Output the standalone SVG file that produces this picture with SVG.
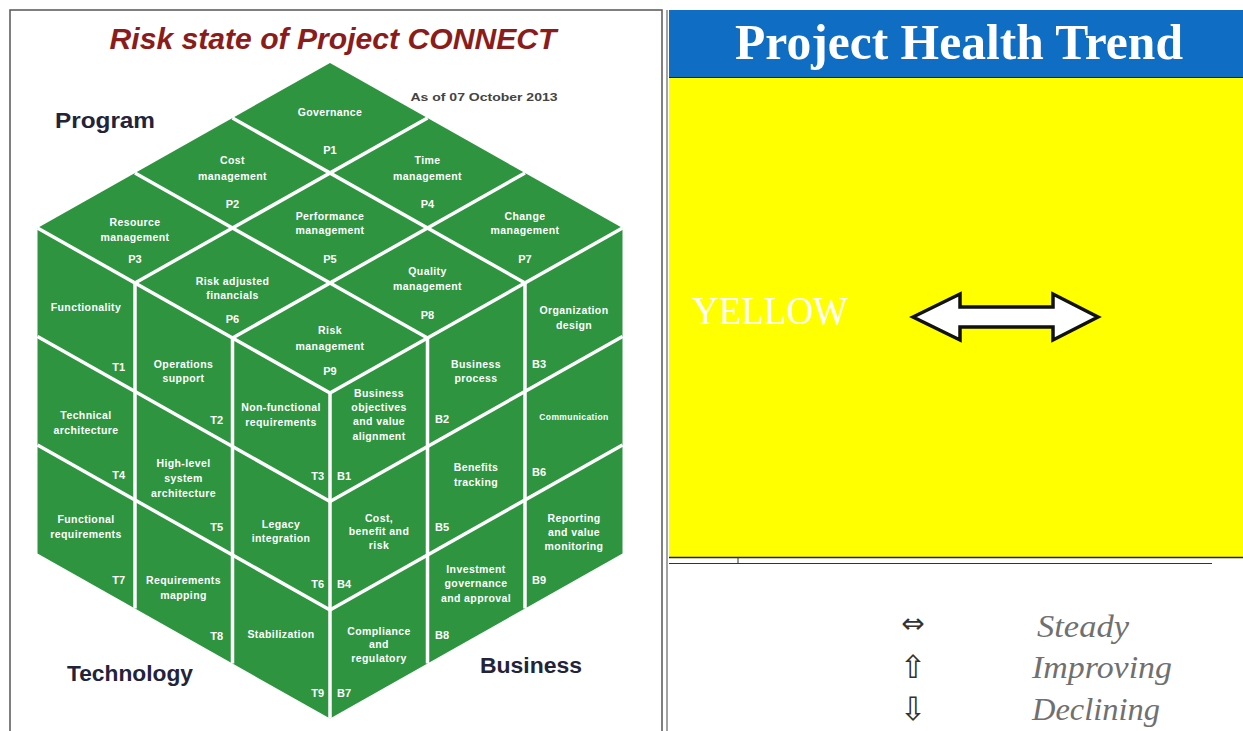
<svg xmlns="http://www.w3.org/2000/svg" width="1243" height="731" viewBox="0 0 1243 731">
<style>
.cell{fill:#2e9440}
.grid line{stroke:#ffffff;stroke-width:3.5;stroke-linecap:butt}
.lbl{font-family:"Liberation Sans",Arial,sans-serif;font-weight:bold;font-size:10.5px;fill:#ffffff;text-anchor:middle;letter-spacing:0.4px}
.code{font-family:"Liberation Sans",Arial,sans-serif;font-weight:bold;font-size:11px;fill:#ffffff}
.tc{text-anchor:end}
.bc{text-anchor:start}
.pc{text-anchor:middle}
.face{font-family:"Liberation Sans",Arial,sans-serif;font-weight:bold;font-size:22px;fill:#23233a}
.legend{font-family:"Liberation Serif","DejaVu Serif",serif;font-style:italic;font-size:31px;fill:#707070}
.sym{font-family:"DejaVu Sans",sans-serif;fill:#333333;text-anchor:middle}
</style>
<rect x="0" y="0" width="1243" height="731" fill="#ffffff"/>
<!-- left panel frame -->
<g id="left-frame" fill="none" stroke="#555555" stroke-width="1.5">
<polyline points="10,731 10,10 662,10 662,731"/>
</g>
<g id="risk-title">
<text x="333" y="49" font-family="'Liberation Sans',Arial,sans-serif" font-weight="bold" font-style="italic" font-size="29" fill="#8b1c1c" text-anchor="middle" textLength="447" lengthAdjust="spacingAndGlyphs">Risk state of Project CONNECT</text>
<text x="484" y="101" font-family="'Liberation Sans',Arial,sans-serif" font-weight="bold" font-size="11" fill="#444444" text-anchor="middle" textLength="147" lengthAdjust="spacingAndGlyphs">As of 07 October 2013</text>
</g>
<g id="face-labels">
<text class="face" x="55" y="128" textLength="100" lengthAdjust="spacingAndGlyphs">Program</text>
<text class="face" x="67" y="681" textLength="126" lengthAdjust="spacingAndGlyphs">Technology</text>
<text class="face" x="480" y="673" textLength="102" lengthAdjust="spacingAndGlyphs">Business</text>
</g>
<!-- Program (top) face -->
<g id="P1"><polygon class="cell" points="330,63 427.5,118 330,173 232.5,118"/><text class="lbl" x="330" y="116">Governance</text><text class="code pc" x="330" y="154">P1</text></g>
<g id="P2"><polygon class="cell" points="232.5,118 330,173 232.5,228 135,173"/><text class="lbl" x="232.5" y="164">Cost</text><text class="lbl" x="232.5" y="180">management</text><text class="code pc" x="232.5" y="208">P2</text></g>
<g id="P3"><polygon class="cell" points="135,173 232.5,228 135,283 37.5,228"/><text class="lbl" x="135" y="226">Resource</text><text class="lbl" x="135" y="241">management</text><text class="code pc" x="135" y="263">P3</text></g>
<g id="P4"><polygon class="cell" points="427.5,118 525,173 427.5,228 330,173"/><text class="lbl" x="427.5" y="164">Time</text><text class="lbl" x="427.5" y="180">management</text><text class="code pc" x="427.5" y="208">P4</text></g>
<g id="P5"><polygon class="cell" points="330,173 427.5,228 330,283 232.5,228"/><text class="lbl" x="330" y="220">Performance</text><text class="lbl" x="330" y="234">management</text><text class="code pc" x="330" y="263">P5</text></g>
<g id="P6"><polygon class="cell" points="232.5,228 330,283 232.5,338 135,283"/><text class="lbl" x="232.5" y="285">Risk adjusted</text><text class="lbl" x="232.5" y="299">financials</text><text class="code pc" x="232.5" y="323">P6</text></g>
<g id="P7"><polygon class="cell" points="525,173 622.5,228 525,283 427.5,228"/><text class="lbl" x="525" y="220">Change</text><text class="lbl" x="525" y="234">management</text><text class="code pc" x="525" y="263">P7</text></g>
<g id="P8"><polygon class="cell" points="427.5,228 525,283 427.5,338 330,283"/><text class="lbl" x="427.5" y="275">Quality</text><text class="lbl" x="427.5" y="290">management</text><text class="code pc" x="427.5" y="319">P8</text></g>
<g id="P9"><polygon class="cell" points="330,283 427.5,338 330,393 232.5,338"/><text class="lbl" x="330" y="334">Risk</text><text class="lbl" x="330" y="350">management</text><text class="code pc" x="330" y="375">P9</text></g>
<!-- Technology (left) face -->
<g id="T1"><polygon class="cell" points="37.5,228 135,283 135,391.5 37.5,336.5"/><text class="lbl" x="86" y="311">Functionality</text><text class="code tc" x="125" y="371">T1</text></g>
<g id="T2"><polygon class="cell" points="135,283 232.5,338 232.5,446.5 135,391.5"/><text class="lbl" x="183.5" y="368">Operations</text><text class="lbl" x="183.5" y="382">support</text><text class="code tc" x="223" y="424">T2</text></g>
<g id="T3"><polygon class="cell" points="232.5,338 330,393 330,501.5 232.5,446.5"/><text class="lbl" x="281" y="411">Non-functional</text><text class="lbl" x="281" y="426">requirements</text><text class="code tc" x="324" y="480">T3</text></g>
<g id="T4"><polygon class="cell" points="37.5,336.5 135,391.5 135,500 37.5,445"/><text class="lbl" x="86" y="419">Technical</text><text class="lbl" x="86" y="434">architecture</text><text class="code tc" x="125" y="479">T4</text></g>
<g id="T5"><polygon class="cell" points="135,391.5 232.5,446.5 232.5,555 135,500"/><text class="lbl" x="183.5" y="467">High-level</text><text class="lbl" x="183.5" y="482">system</text><text class="lbl" x="183.5" y="497">architecture</text><text class="code tc" x="223" y="531">T5</text></g>
<g id="T6"><polygon class="cell" points="232.5,446.5 330,501.5 330,610 232.5,555"/><text class="lbl" x="281" y="528">Legacy</text><text class="lbl" x="281" y="542">integration</text><text class="code tc" x="324" y="588">T6</text></g>
<g id="T7"><polygon class="cell" points="37.5,445 135,500 135,608.5 37.5,553.5"/><text class="lbl" x="86" y="523">Functional</text><text class="lbl" x="86" y="538">requirements</text><text class="code tc" x="125" y="584">T7</text></g>
<g id="T8"><polygon class="cell" points="135,500 232.5,555 232.5,663.5 135,608.5"/><text class="lbl" x="183.5" y="584">Requirements</text><text class="lbl" x="183.5" y="599">mapping</text><text class="code tc" x="223" y="640">T8</text></g>
<g id="T9"><polygon class="cell" points="232.5,555 330,610 330,718.5 232.5,663.5"/><text class="lbl" x="281" y="638">Stabilization</text><text class="code tc" x="324" y="697">T9</text></g>
<!-- Business (right) face -->
<g id="B1"><polygon class="cell" points="330,393 427.5,338 427.5,446.5 330,501.5"/><text class="lbl" x="379" y="397">Business</text><text class="lbl" x="379" y="411">objectives</text><text class="lbl" x="379" y="425">and value</text><text class="lbl" x="379" y="440">alignment</text><text class="code bc" x="337" y="480">B1</text></g>
<g id="B2"><polygon class="cell" points="427.5,338 525,283 525,391.5 427.5,446.5"/><text class="lbl" x="476" y="368">Business</text><text class="lbl" x="476" y="382">process</text><text class="code bc" x="435" y="423">B2</text></g>
<g id="B3"><polygon class="cell" points="525,283 622.5,228 622.5,336.5 525,391.5"/><text class="lbl" x="574" y="314">Organization</text><text class="lbl" x="574" y="329">design</text><text class="code bc" x="532" y="368">B3</text></g>
<g id="B4"><polygon class="cell" points="330,501.5 427.5,446.5 427.5,555 330,610"/><text class="lbl" x="379" y="522">Cost,</text><text class="lbl" x="379" y="535">benefit and</text><text class="lbl" x="379" y="549">risk</text><text class="code bc" x="337" y="588">B4</text></g>
<g id="B5"><polygon class="cell" points="427.5,446.5 525,391.5 525,500 427.5,555"/><text class="lbl" x="476" y="471">Benefits</text><text class="lbl" x="476" y="486">tracking</text><text class="code bc" x="435" y="531">B5</text></g>
<g id="B6"><polygon class="cell" points="525,391.5 622.5,336.5 622.5,445 525,500"/><text class="lbl" x="574" y="420" style="font-size:8.5px">Communication</text><text class="code bc" x="532" y="476">B6</text></g>
<g id="B7"><polygon class="cell" points="330,610 427.5,555 427.5,663.5 330,718.5"/><text class="lbl" x="379" y="635">Compliance</text><text class="lbl" x="379" y="648">and</text><text class="lbl" x="379" y="662">regulatory</text><text class="code bc" x="337" y="697">B7</text></g>
<g id="B8"><polygon class="cell" points="427.5,555 525,500 525,608.5 427.5,663.5"/><text class="lbl" x="476" y="573">Investment</text><text class="lbl" x="476" y="587">governance</text><text class="lbl" x="476" y="602">and approval</text><text class="code bc" x="435" y="639">B8</text></g>
<g id="B9"><polygon class="cell" points="525,500 622.5,445 622.5,553.5 525,608.5"/><text class="lbl" x="574" y="522">Reporting</text><text class="lbl" x="574" y="536">and value</text><text class="lbl" x="574" y="550">monitoring</text><text class="code bc" x="532" y="584">B9</text></g>
<!-- white separators of the cube -->
<g id="connectors" class="grid">
<line x1="232.5" y1="118" x2="525" y2="283"/>
<line x1="135" y1="173" x2="427.5" y2="338"/>
<line x1="37.5" y1="228" x2="330" y2="393"/>
<line x1="427.5" y1="118" x2="135" y2="283"/>
<line x1="525" y1="173" x2="232.5" y2="338"/>
<line x1="622.5" y1="228" x2="330" y2="393"/>
<line x1="135" y1="283" x2="135" y2="608.5"/>
<line x1="232.5" y1="338" x2="232.5" y2="663.5"/>
<line x1="330" y1="393" x2="330" y2="718.5"/>
<line x1="427.5" y1="338" x2="427.5" y2="663.5"/>
<line x1="525" y1="283" x2="525" y2="608.5"/>
<line x1="37.5" y1="336.5" x2="330" y2="501.5"/>
<line x1="37.5" y1="445" x2="330" y2="610"/>
<line x1="330" y1="501.5" x2="622.5" y2="336.5"/>
<line x1="330" y1="610" x2="622.5" y2="445"/>
</g>
<!-- right panel -->
<g id="right-frame" fill="none" stroke="#666666" stroke-width="1.2">
<line x1="667" y1="10" x2="667" y2="731"/>
</g>
<g id="health-header">
<rect x="669" y="10" width="574" height="67" fill="#0f6ec3"/>
<text x="959" y="59" font-family="'Liberation Serif','DejaVu Serif',serif" font-weight="bold" font-size="50" fill="#ffffff" text-anchor="middle" textLength="448" lengthAdjust="spacingAndGlyphs">Project Health Trend</text>
</g>
<g id="health-status">
<rect x="669" y="77" width="574" height="480" fill="#ffff00"/>
<line x1="669" y1="77.5" x2="1243" y2="77.5" stroke="#222222" stroke-width="1.2"/>
<line x1="669" y1="557.5" x2="1243" y2="557.5" stroke="#222222" stroke-width="1.5"/>
<line x1="669" y1="563.5" x2="1212" y2="563.5" stroke="#333333" stroke-width="1.2"/>
<line x1="738" y1="557" x2="738" y2="564" stroke="#333333" stroke-width="1"/>
<text x="692" y="324" font-family="'Liberation Serif','DejaVu Serif',serif" font-size="40" fill="#ffffff" textLength="156" lengthAdjust="spacingAndGlyphs">YELLOW</text>
<polygon points="913,317 960,294 960,307 1053,307 1053,294 1098,317 1053,340 1053,327 960,327 960,340" fill="#ffffff" stroke="#111111" stroke-width="3.5" stroke-linejoin="miter"/>
</g>
<g id="legend">
<text class="sym" x="913" y="633" font-size="28">⇔</text>
<text class="legend" x="1037" y="637" textLength="92" lengthAdjust="spacingAndGlyphs">Steady</text>
<text class="sym" x="913" y="678" font-size="32">⇧</text>
<text class="legend" x="1032" y="678" textLength="140" lengthAdjust="spacingAndGlyphs">Improving</text>
<text class="sym" x="913" y="720" font-size="32">⇩</text>
<text class="legend" x="1032" y="720" textLength="128" lengthAdjust="spacingAndGlyphs">Declining</text>
</g>
</svg>
